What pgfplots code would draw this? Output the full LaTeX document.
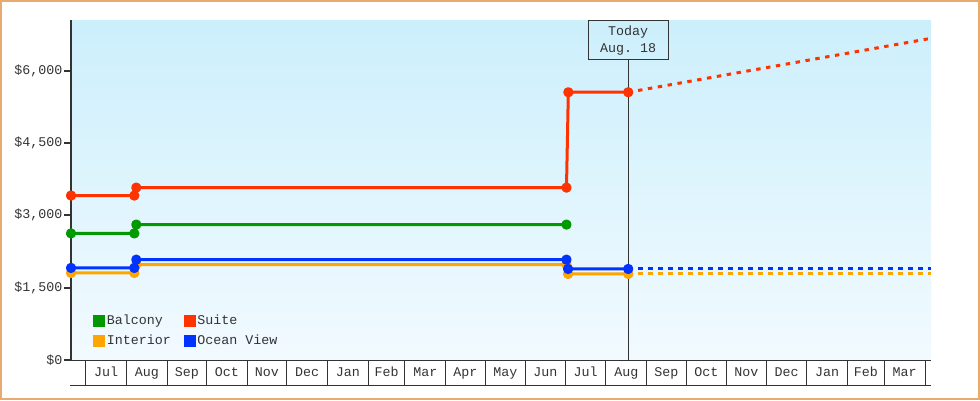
\documentclass[border=0pt]{standalone}
\usepackage{fontspec}
\setmonofont{Liberation Mono}
\usepackage{pgfplots}
\pgfplotsset{compat=1.18}
\definecolor{cText}{RGB}{51,51,51}
\definecolor{cBal}{RGB}{0,153,0}
\definecolor{cSuite}{RGB}{255,51,0}
\definecolor{cInt}{RGB}{255,165,0}
\definecolor{cOcean}{RGB}{0,51,255}
\definecolor{cTop}{RGB}{204,239,252}
\definecolor{cBot}{RGB}{242,250,255}
\definecolor{cFrame}{RGB}{232,170,110}

% x values are days counted from Jul 1 of the first year
\begin{document}
\begin{tikzpicture}
\useasboundingbox (0,0) rectangle (735pt,300pt);
\draw[cFrame, line width=1.5pt] (0.75pt,0.75pt) rectangle (734.25pt,299.25pt);
\begin{axis}[
  at={(53.25pt,30pt)}, anchor=south west,
  scale only axis, width=645pt, height=255pt,
  xmin=-11.2, xmax=643.5, ymin=0, ymax=7050,
  clip=false,
  axis background/.style={top color=cTop, bottom color=cBot},
  axis x line=bottom, axis y line=left,
  axis line style={-, draw=cText},
  x axis line style={line width=0.75pt},
  y axis line style={line width=1.5pt},
  xtick={0,31,62,92,123,153,184,215,243,274,304,335,365,396,427,457,488,518,549,580,608,639},
  xticklabels={Jul,Aug,Sep,Oct,Nov,Dec,Jan,Feb,Mar,Apr,May,Jun,Jul,Aug,Sep,Oct,Nov,Dec,Jan,Feb,Mar},
  x tick label as interval,
  xtick style={draw=none},
  xtick align=inside,
  xticklabel style={anchor=base, yshift=-12pt},
  ytick={0,1500,3000,4500,6000},
  ytick align=outside,
  major tick length=5.25pt,
  ytick style={draw=cText, line width=1.5pt},
  yticklabel={\$\pgfmathprintnumber{\tick}},
  yticklabel style={xshift=2.25pt},
  /pgf/number format/.cd, 1000 sep={,}, assume math mode=true, /pgfplots/.cd,
  tick label style={font=\ttfamily, text=cText},
  legend columns=2,
  legend cell align=left,
  legend style={at={(0.0256,0.030)}, anchor=south west, draw=none, fill=none,
    inner sep=0pt, font=\ttfamily, text=cText, row sep=2pt,
    nodes={inner sep=1.5pt, text height=7.5pt, text depth=2.5pt},
    /tikz/every even column/.append style={column sep=8.25pt}},
]
\pgfplotsinvokeforeach{0,31,62,92,123,153,184,215,243,274,304,335,365,396,427,457,488,518,549,580,608,639}{
  \draw[cText, line width=0.75pt] (axis cs:#1,0) -- ([yshift=-18.75pt]axis cs:#1,0);
}
\draw[cText, line width=0.75pt] ([xshift=-0.75pt, yshift=-18.75pt]axis cs:-11.2,0) -- ([yshift=-18.75pt]axis cs:643.5,0);

\node[draw=cText, line width=0.75pt, anchor=north, minimum width=60pt, minimum height=29.5pt,
  inner sep=0pt, align=center, text=cText, font=\ttfamily\fontsize{10}{12.75}\selectfont]
  (today) at (axis cs:413,7050) {\raisebox{-1.5pt}{Today}\\\raisebox{-1.5pt}{Aug. 18}};
\draw[cText, line width=0.75pt] (axis cs:413,0) -- (today.south);

\addlegendimage{legend image code/.code={\fill[cBal] (0pt,-4.125pt) rectangle (8.25pt,4.125pt);}}
\addlegendentry{Balcony}
\addlegendimage{legend image code/.code={\fill[cSuite] (0pt,-4.125pt) rectangle (8.25pt,4.125pt);}}
\addlegendentry{Suite}
\addlegendimage{legend image code/.code={\fill[cInt] (0pt,-4.125pt) rectangle (8.25pt,4.125pt);}}
\addlegendentry{Interior}
\addlegendimage{legend image code/.code={\fill[cOcean] (0pt,-4.125pt) rectangle (8.25pt,4.125pt);}}
\addlegendentry{Ocean View}

% projected prices
\addplot[forget plot, cInt, line width=2.25pt, dash pattern=on 3.3pt off 4.2pt] coordinates {(413,1784) (643.5,1784)};
\addplot[forget plot, cOcean, line width=2.25pt, dash pattern=on 3.3pt off 4.2pt] coordinates {(413,1888) (643.5,1888)};
\addplot[forget plot, cSuite, line width=2.25pt, dash pattern=on 3.3pt off 4.2pt] coordinates {(413,5552) (643.5,6670)};

% price history
\addplot[forget plot, cInt, line width=2.25pt, line join=round, mark=*, mark size=2.7pt] coordinates {
  (-11.2,1805) (37,1805) (38.5,1977) (366,1977) (367.2,1784) (413,1784)};
\addplot[forget plot, cOcean, line width=2.25pt, line join=round, mark=*, mark size=2.7pt] coordinates {
  (-11.2,1909) (37,1909) (38.5,2080) (366,2080) (367.2,1888) (413,1888)};
\addplot[forget plot, cBal, line width=2.25pt, line join=round, mark=*, mark size=2.7pt] coordinates {
  (-11.2,2625) (37,2625) (38.5,2808) (366,2808)};
\addplot[forget plot, cSuite, line width=2.25pt, line join=round, mark=*, mark size=2.7pt] coordinates {
  (-11.2,3410) (37,3410) (38.5,3575) (366,3575) (367.4,5552) (413,5552)};
\end{axis}
\end{tikzpicture}
\end{document}
